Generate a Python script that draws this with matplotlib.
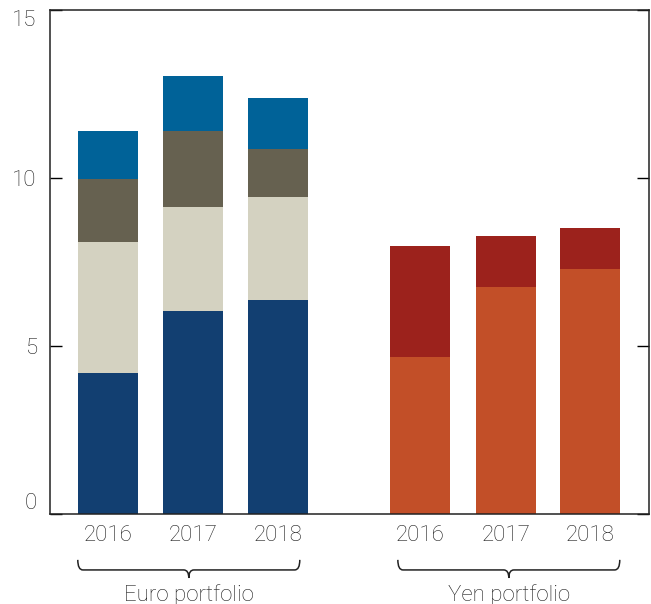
import matplotlib
matplotlib.use("Agg")
import matplotlib.pyplot as plt
from matplotlib.path import Path
from matplotlib.patches import PathPatch
import matplotlib.transforms as mtransforms

plt.rcParams['font.family'] = ['Roboto', 'DejaVu Sans']

years = ["2016", "2017", "2018"]
groups = ["Euro portfolio", "Yen portfolio"]

# Euro portfolio stacked segments (bottom to top)
euro_seg1 = [4.19, 6.05, 6.37]
euro_seg2 = [3.91, 3.10, 3.05]
euro_seg3 = [1.86, 2.24, 1.44]
euro_seg4 = [1.45, 1.64, 1.51]

# Yen portfolio stacked segments (bottom to top)
yen_seg1 = [4.66, 6.75, 7.28]
yen_seg2 = [3.33, 1.53, 1.22]

euro_colors = ["#123f71", "#d4d2c1", "#666150", "#006298"]
yen_colors = ["#c24f28", "#9c221c"]

euro_x = [0, 1, 2]
yen_x = [3.68, 4.69, 5.68]
width = 0.706

fig = plt.figure(figsize=(6.51, 6.04), dpi=100)
ax = fig.add_axes([50/651, 90/604, 599/651, 504/604])

bottom = [0, 0, 0]
for seg, c in zip([euro_seg1, euro_seg2, euro_seg3, euro_seg4], euro_colors):
    ax.bar(euro_x, seg, width, bottom=bottom, color=c, linewidth=0)
    bottom = [b + s for b, s in zip(bottom, seg)]

bottom = [0, 0, 0]
for seg, c in zip([yen_seg1, yen_seg2], yen_colors):
    ax.bar(yen_x, seg, width, bottom=bottom, color=c, linewidth=0)
    bottom = [b + s for b, s in zip(bottom, seg)]

ax.set_xlim(-0.68, 6.37)
ax.set_ylim(0, 15)
ax.set_yticks([0, 5, 10, 15])
ax.set_yticklabels(["0", "5", "10", "15"])
ax.set_xticks(euro_x + yen_x)
ax.set_xticklabels(years + years)

txt_color = "#1e1e1e"
fs = 16
ax.tick_params(axis='y', direction='in', length=8.6, width=1, pad=9.5,
               labelsize=fs, labelcolor=txt_color, right=True, left=True)
ax.tick_params(axis='x', length=0, pad=8, labelsize=fs, labelcolor=txt_color)
for lab in ax.get_xticklabels() + ax.get_yticklabels():
    lab.set_fontweight('light')
ylabs = ax.get_yticklabels()
ylabs[0].set_va('bottom')
ylabs[-1].set_va('top')

for s in ax.spines.values():
    s.set_linewidth(1.1)
    s.set_color("#222222")

trans = mtransforms.blended_transform_factory(ax.transData, ax.transAxes)

def brace(x0, x1, ytop, ymid, ybot, r):
    xc = (x0 + x1) / 2
    verts = [(x0, ytop), (x0, ymid), (x0 + r, ymid),
             (xc - r, ymid), (xc, ymid), (xc, ybot),
             (xc, ymid), (xc + r, ymid),
             (x1 - r, ymid), (x1, ymid), (x1, ytop)]
    codes = [Path.MOVETO, Path.CURVE3, Path.CURVE3,
             Path.LINETO, Path.CURVE3, Path.CURVE3,
             Path.CURVE3, Path.CURVE3,
             Path.LINETO, Path.CURVE3, Path.CURVE3]
    p = PathPatch(Path(verts, codes), transform=trans, fill=False,
                  edgecolor="#222222", linewidth=1.1, clip_on=False)
    ax.add_patch(p)
    return xc

brace_spans = [(-0.353, 2.26), (3.414, 6.026)]
for (x0, x1), name in zip(brace_spans, groups):
    xc = brace(x0, x1, -0.091, -0.111, -0.127, 0.06)
    ax.text(xc, -0.160, name, transform=trans, ha='center', va='center',
            fontsize=fs, color=txt_color, fontweight='light')

fig.savefig("out.png", dpi=100)
